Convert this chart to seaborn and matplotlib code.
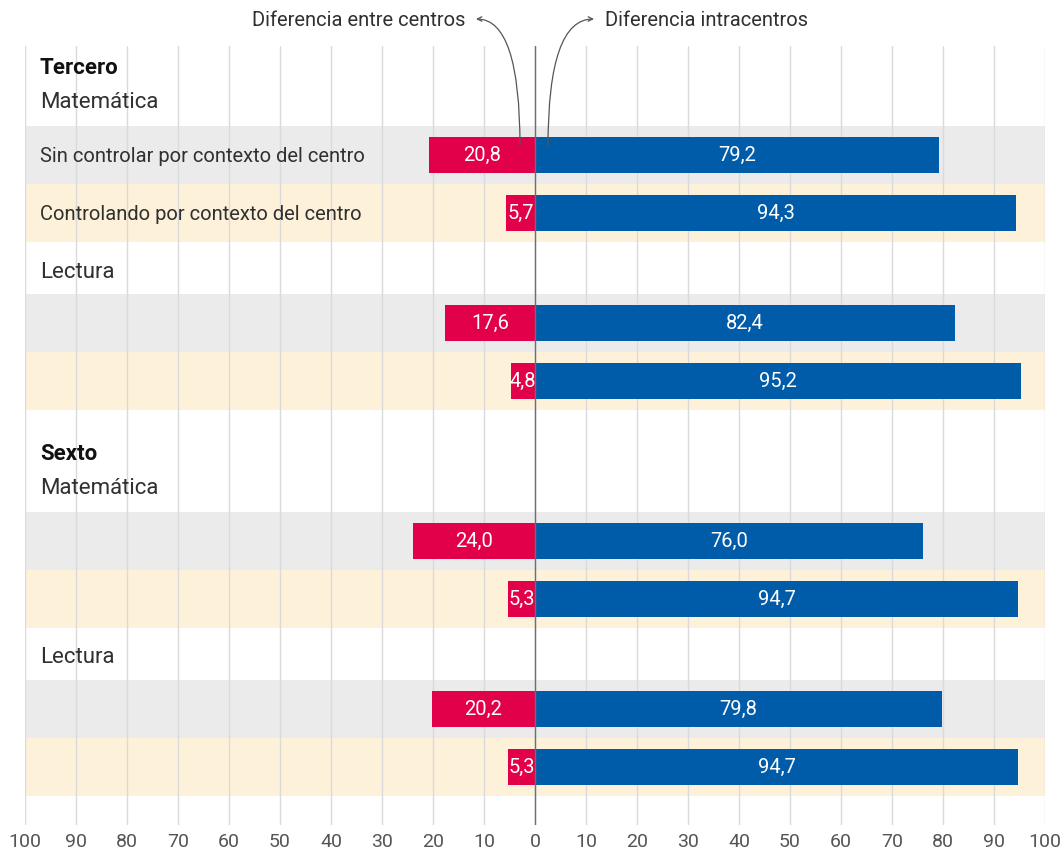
import numpy as np
import pandas as pd
import seaborn as sns
import matplotlib.pyplot as plt
from matplotlib.patches import FancyArrowPatch

# --- data -------------------------------------------------------------
grados = ["Tercero", "Tercero", "Tercero", "Tercero", "Sexto", "Sexto", "Sexto", "Sexto"]
areas = ["Matemática", "Matemática", "Lectura", "Lectura",
         "Matemática", "Matemática", "Lectura", "Lectura"]
controles = ["Sin controlar por contexto del centro", "Controlando por contexto del centro"] * 4
entre_centros = [20.8, 5.7, 17.6, 4.8, 24.0, 5.3, 20.2, 5.3]
intra_centros = [79.2, 94.3, 82.4, 95.2, 76.0, 94.7, 79.8, 94.7]
ticks = list(range(-100, 101, 10))

ROJO = "#e2004a"
AZUL = "#005ca8"
GRIS_FONDO = "#ebebeb"
CREMA_FONDO = "#fdf1d9"
TEXTO = "#303030"

# --- vertical layout (y grows downward, in pixel-like units) ----------
ROW_H = 58
pos_grado, pos_area, pos_row = {}, {}, []
y = 66
for i in range(len(grados)):
    nuevo_grado = i == 0 or grados[i] != grados[i - 1]
    nueva_area = nuevo_grado or areas[i] != areas[i - 1]
    if nuevo_grado:
        if i > 0:
            y += 71
        pos_grado[i] = y
        y += 35
        pos_area[i] = y
        y += 54
    elif nueva_area:
        y += 57
        pos_area[i] = y
        y += 53
    else:
        y += ROW_H
    pos_row.append(y)

df = pd.DataFrame({
    "y": pos_row * 2,
    "valor": [-v for v in entre_centros] + intra_centros,
    "serie": ["Diferencia entre centros"] * len(pos_row) + ["Diferencia intracentros"] * len(pos_row),
})

sns.set_theme(style="white")
plt.rcParams["font.family"] = ["Roboto", "DejaVu Sans"]

fig = plt.figure(figsize=(10.61, 8.5), dpi=100)
H = 850
ax = fig.add_axes([25 / 1061, (H - 825) / H, 1020 / 1061, (825 - 46) / H])

# row backgrounds
for i, yc in enumerate(pos_row):
    ax.axhspan(yc - ROW_H / 2, yc + ROW_H / 2, color=GRIS_FONDO if i % 2 == 0 else CREMA_FONDO,
               lw=0, zorder=0)

# vertical grid
for t in ticks:
    ax.axvline(t, color="#dadada", lw=1, zorder=1)

sns.barplot(data=df, x="valor", y="y", hue="serie", orient="h", native_scale=True,
            dodge=False, palette=[ROJO, AZUL], width=36 / ROW_H, legend=False,
            saturation=1, linewidth=0, edgecolor="none", ax=ax, zorder=2)

ax.axvline(0, color="#6e6e6e", lw=1, zorder=3)

for cont, vals in zip(ax.containers, [entre_centros, intra_centros]):
    ax.bar_label(cont, labels=[f"{v:.1f}".replace(".", ",") for v in vals],
                 label_type="center", color="white", fontsize=14.5)

ax.set_xlim(-100, 100)
ax.set_ylim(825, 46)
ax.set_xticks(ticks)
ax.set_xticklabels([str(abs(t)) for t in ticks], fontsize=14, color="#555555")
ax.tick_params(axis="x", length=0, pad=6)
ax.set_yticks([])
ax.set_xlabel("")
ax.set_ylabel("")
for s in ax.spines.values():
    s.set_visible(False)

trans = ax.get_yaxis_transform()
tx = 15 / 1020
dy = 2
for i, yv in pos_grado.items():
    ax.text(tx, yv + dy, grados[i], transform=trans, va="center", ha="left",
            fontsize=16, fontweight="bold", color="#111111")
for i, yv in pos_area.items():
    ax.text(tx, yv + dy, areas[i], transform=trans, va="center", ha="left",
            fontsize=16, color=TEXTO)
for i in range(2):
    ax.text(tx, pos_row[i] + 1, controles[i], transform=trans, va="center", ha="left",
            fontsize=14.5, color=TEXTO)

# series captions with curved pointers
fig.text(465 / 1061, (H - 20) / H, "Diferencia entre centros", ha="right", va="center",
         fontsize=14.5, color=TEXTO)
fig.text(605 / 1061, (H - 20) / H, "Diferencia intracentros", ha="left", va="center",
         fontsize=14.5, color=TEXTO)
arrow = dict(arrowstyle="->", color="#555555", lw=0.9, mutation_scale=8, shrinkA=0, shrinkB=0)
fig.add_artist(FancyArrowPatch((520, H - 146), (476, H - 19), transform=None,
                               connectionstyle="angle3,angleA=90,angleB=0", **arrow))
fig.add_artist(FancyArrowPatch((548, H - 146), (594, H - 19), transform=None,
                               connectionstyle="angle3,angleA=90,angleB=0", **arrow))

fig.savefig("out.png", dpi=100, facecolor="white")
